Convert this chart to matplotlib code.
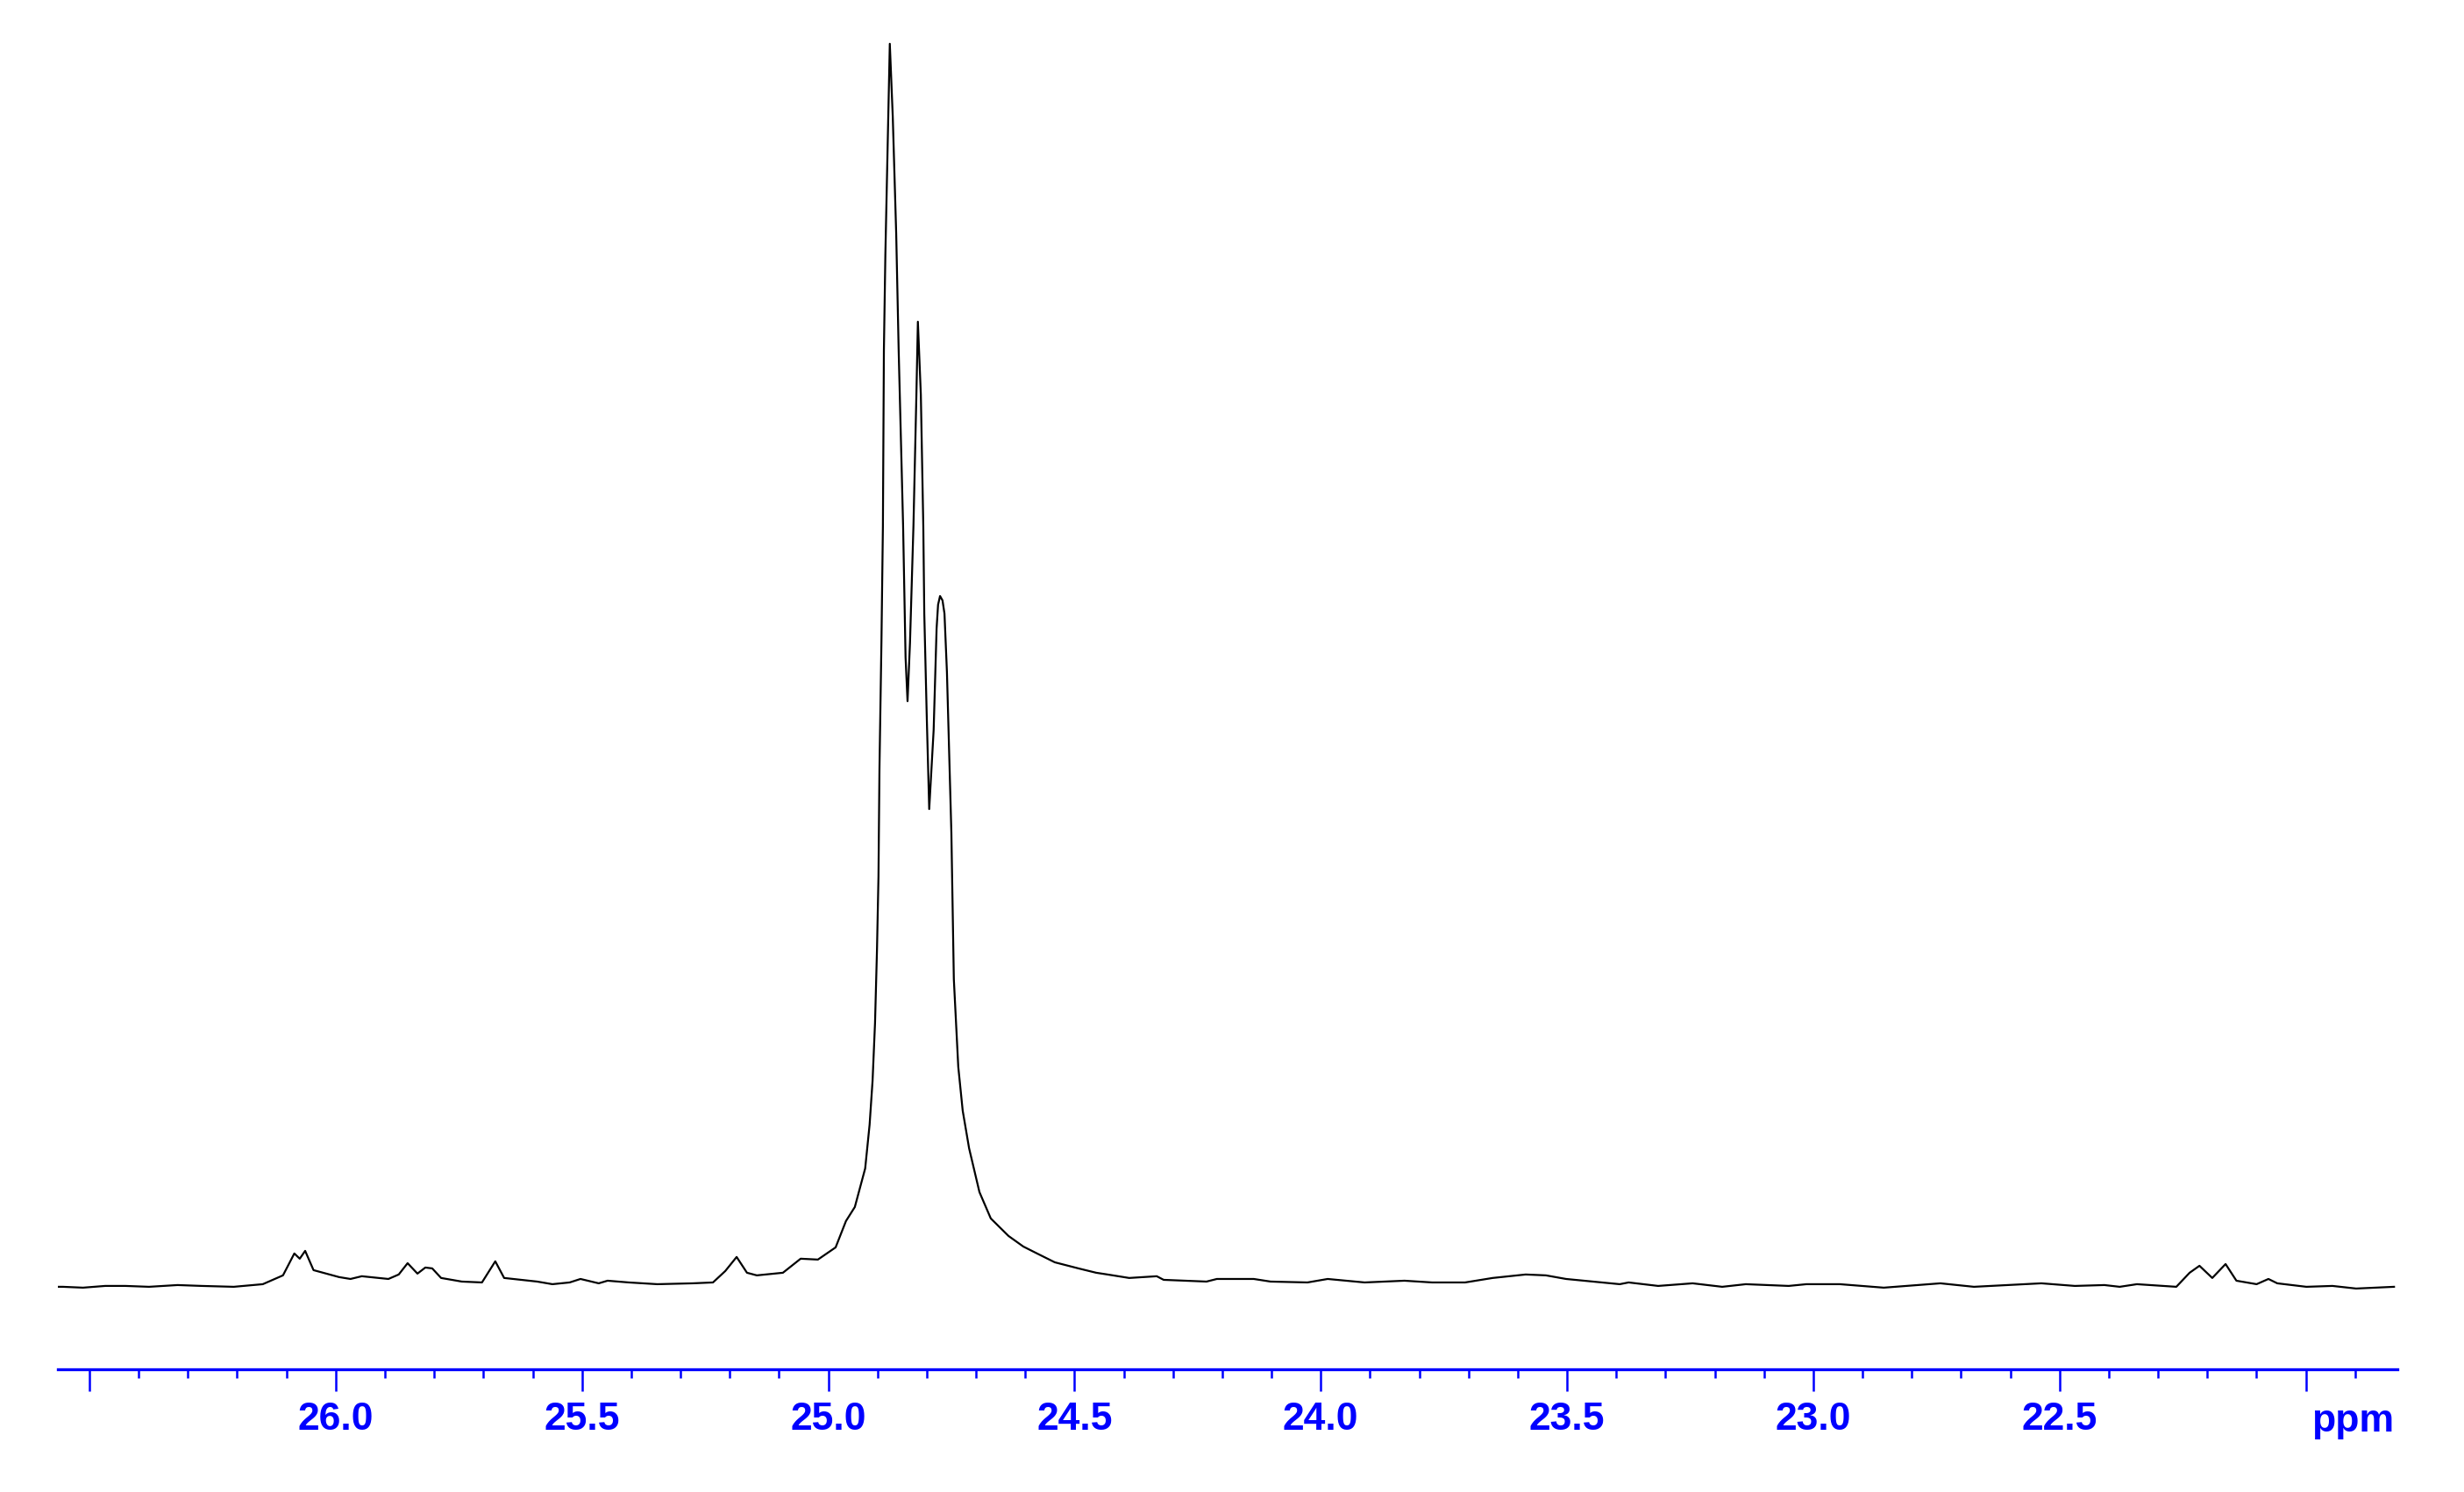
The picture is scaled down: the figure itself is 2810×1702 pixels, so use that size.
import matplotlib
matplotlib.use("Agg")
import matplotlib.pyplot as plt
from matplotlib.ticker import MultipleLocator, FuncFormatter

# ---------- spectrum (ppm, relative intensity) ----------
ppm = [
    26.564, 26.554, 26.513, 26.468, 26.427, 26.379, 26.321, 26.272, 26.207, 26.148,
    26.107, 26.084, 26.073, 26.062, 26.045, 25.993, 25.970, 25.947, 25.893, 25.872,
    25.854, 25.834, 25.818, 25.804, 25.786, 25.744, 25.703, 25.676, 25.658, 25.591,
    25.560, 25.525, 25.503, 25.466, 25.448, 25.405, 25.347, 25.275, 25.234, 25.209,
    25.186, 25.165, 25.145, 25.092, 25.056, 25.021, 24.985, 24.964, 24.946, 24.925,
    24.916, 24.910, 24.905, 24.901, 24.898, 24.896, 24.892, 24.889, 24.887, 24.884,
    24.880, 24.875, 24.869, 24.862, 24.857, 24.848, 24.843, 24.839, 24.834, 24.827,
    24.821, 24.818, 24.812, 24.807, 24.805, 24.800, 24.795, 24.786, 24.780, 24.777,
    24.773, 24.768, 24.764, 24.759, 24.754, 24.750, 24.745, 24.736, 24.727, 24.714,
    24.693, 24.670, 24.634, 24.604, 24.576, 24.540, 24.492, 24.456, 24.433, 24.389,
    24.333, 24.319, 24.232, 24.211, 24.136, 24.102, 24.027, 23.986, 23.911, 23.830,
    23.774, 23.707, 23.651, 23.584, 23.543, 23.502, 23.448, 23.393, 23.375, 23.315,
    23.245, 23.185, 23.137, 23.050, 23.014, 22.946, 22.857, 22.742, 22.674, 22.537,
    22.469, 22.409, 22.378, 22.343, 22.263, 22.236, 22.216, 22.190, 22.163, 22.141,
    22.100, 22.076, 22.058, 21.999, 21.946, 21.898, 21.821,
]
intensity = [
    0.00, 0.00, -0.07, 0.07, 0.07, 0.00, 0.14, 0.07, 0.00, 0.21,
    0.92, 2.68, 2.26, 2.89, 1.34, 0.78, 0.63, 0.85, 0.63, 0.99,
    1.90, 1.06, 1.55, 1.48, 0.71, 0.42, 0.35, 2.05, 0.71, 0.42,
    0.21, 0.35, 0.63, 0.28, 0.49, 0.35, 0.21, 0.28, 0.35, 1.27,
    2.40, 1.13, 0.92, 1.13, 2.26, 2.19, 3.17, 5.29, 6.42, 9.52,
    13.05, 16.57, 21.23, 27.15, 33.00, 41.68, 51.83, 61.21, 75.32, 83.07,
    90.62, 100.0, 94.15, 84.70, 75.32, 61.21, 50.63, 47.11, 51.83, 61.21,
    71.79, 77.64, 71.79, 61.21, 54.16, 45.91, 38.43, 44.78, 52.96, 54.87,
    55.57, 55.22, 54.16, 49.44, 42.38, 36.53, 24.75, 17.70, 14.17, 11.14,
    7.62, 5.50, 4.09, 3.24, 2.68, 1.97, 1.48, 1.13, 0.99, 0.71,
    0.85, 0.56, 0.42, 0.63, 0.63, 0.42, 0.35, 0.63, 0.35, 0.49,
    0.35, 0.35, 0.71, 0.99, 0.92, 0.63, 0.42, 0.21, 0.35, 0.07,
    0.28, 0.00, 0.21, 0.07, 0.21, 0.21, -0.07, 0.28, 0.00, 0.28,
    0.07, 0.14, 0.00, 0.21, 0.00, 1.13, 1.69, 0.71, 1.83, 0.49,
    0.21, 0.63, 0.28, 0.00, 0.07, -0.14, 0.00,
]

blue = "#0000FF"
font = ["Liberation Sans Narrow", "Liberation Sans", "DejaVu Sans"]

fig = plt.figure(figsize=(28.1, 17.02), dpi=100)
ax = fig.add_axes([0.0235, 0.0823, 0.9495, 0.9177])

ax.plot(ppm, intensity, color="black", linewidth=1.6)
ax.set_xlim(26.564, 21.814)
ax.set_ylim(-6.63, 103.52)

for side in ["top", "left", "right"]:
    ax.spines[side].set_visible(False)
ax.spines["bottom"].set_color(blue)
ax.spines["bottom"].set_linewidth(2.4)
ax.set_yticks([])

ax.xaxis.set_major_locator(MultipleLocator(0.5))
ax.xaxis.set_minor_locator(MultipleLocator(0.1))
ax.xaxis.set_major_formatter(FuncFormatter(
    lambda v, pos: "" if (v > 26.3 or v < 22.2) else f"{v:.1f}"))
ax.tick_params(axis="x", which="major", length=18, width=1.8, color=blue,
               labelcolor=blue, pad=9)
ax.tick_params(axis="x", which="minor", length=7.5, width=1.8, color=blue)
for lab in ax.get_xticklabels():
    lab.set_family(font)
    lab.set_fontsize(32)
    lab.set_fontweight("bold")

fig.text(2730 / 2810, (1702 - 1633) / 1702, "ppm", ha="right", va="baseline",
         color=blue, fontsize=32, fontweight="bold", family=font)

fig.savefig("out.png", dpi=100)
